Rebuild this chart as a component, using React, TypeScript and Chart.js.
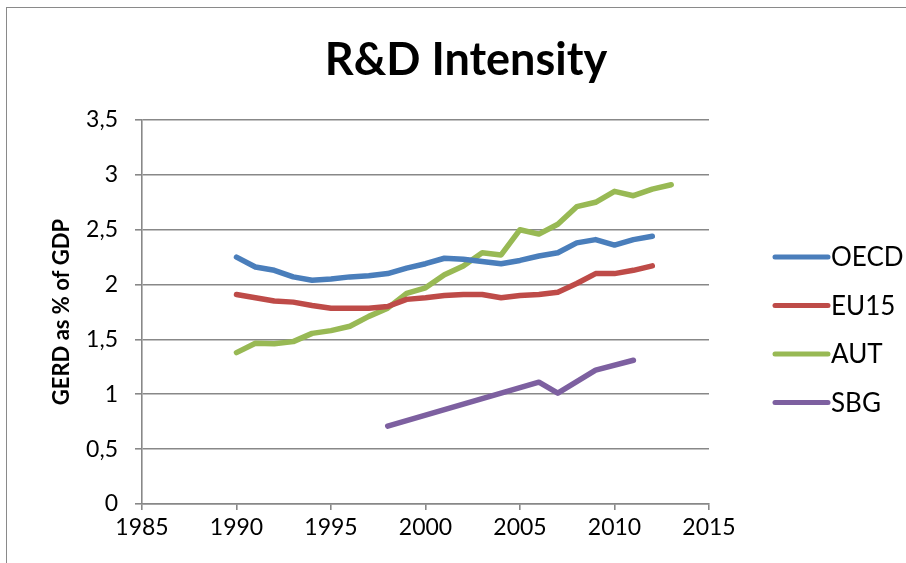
import React, { useEffect, useRef } from "react";
import { Chart, registerables } from "chart.js";

Chart.register(...registerables);

const seriesNames = ["OECD", "EU15", "AUT", "SBG"];
const seriesColors = ["#4A7EBB", "#BE4B48", "#98B954", "#7D60A0"];

const oecdYears = [1990, 1991, 1992, 1993, 1994, 1995, 1996, 1997, 1998, 1999, 2000, 2001, 2002, 2003, 2004, 2005, 2006, 2007, 2008, 2009, 2010, 2011, 2012];
const oecdValues = [2.25, 2.16, 2.13, 2.07, 2.04, 2.05, 2.07, 2.08, 2.10, 2.15, 2.19, 2.24, 2.23, 2.21, 2.19, 2.22, 2.26, 2.29, 2.38, 2.41, 2.36, 2.41, 2.44];

const eu15Years = [1990, 1991, 1992, 1993, 1994, 1995, 1996, 1997, 1998, 1999, 2000, 2001, 2002, 2003, 2004, 2005, 2006, 2007, 2008, 2009, 2010, 2011, 2012];
const eu15Values = [1.91, 1.88, 1.85, 1.84, 1.81, 1.785, 1.785, 1.785, 1.80, 1.865, 1.88, 1.90, 1.91, 1.91, 1.88, 1.90, 1.91, 1.93, 2.01, 2.10, 2.10, 2.13, 2.17];

const autYears = [1990, 1991, 1992, 1993, 1994, 1995, 1996, 1997, 1998, 1999, 2000, 2001, 2002, 2003, 2004, 2005, 2006, 2007, 2008, 2009, 2010, 2011, 2012, 2013];
const autValues = [1.38, 1.465, 1.46, 1.48, 1.555, 1.58, 1.62, 1.71, 1.785, 1.92, 1.97, 2.09, 2.17, 2.29, 2.27, 2.50, 2.46, 2.55, 2.71, 2.75, 2.85, 2.81, 2.87, 2.91];

const sbgYears = [1998, 2006, 2007, 2009, 2011];
const sbgValues = [0.71, 1.11, 1.01, 1.22, 1.31];

const titleText = "R&D Intensity";
const yAxisTitle = "GERD as % of GDP";
const xMin = 1985;
const xMax = 2015;
const xStep = 5;
const yMin = 0;
const yMax = 3.5;
const yStep = 0.5;

const FONT = "Lato, 'Open Sans', sans-serif";
const GRID = "#888888";

function toPoints(xs: number[], ys: number[]) {
  return xs.map((x, i) => ({ x, y: ys[i] }));
}

const titlePlugin = {
  id: "excelTitle",
  afterDraw(chart: any) {
    const { ctx, chartArea } = chart;
    ctx.save();
    ctx.font = `bold 45px ${FONT}`;
    ctx.fillStyle = "#000";
    ctx.textAlign = "center";
    ctx.textBaseline = "middle";
    ctx.fillText(titleText, chartArea.left + 324, chartArea.top - 60);
    ctx.restore();
  },
};

const legendPlugin = {
  id: "excelLegend",
  afterDraw(chart: any) {
    const { ctx, chartArea } = chart;
    ctx.save();
    chart.data.datasets.forEach((ds: any, i: number) => {
      const y = 257 + i * 48.5;
      const x0 = chartArea.right + 66;
      ctx.strokeStyle = ds.borderColor;
      ctx.lineWidth = 5;
      ctx.lineCap = "round";
      ctx.beginPath();
      ctx.moveTo(x0, y);
      ctx.lineTo(x0 + 53, y);
      ctx.stroke();
      ctx.fillStyle = "#000";
      ctx.font = `26px ${FONT}`;
      ctx.textAlign = "left";
      ctx.textBaseline = "middle";
      ctx.fillText(ds.label, x0 + 56, y + 1);
    });
    ctx.restore();
  },
};

export default function App() {
  const ref = useRef<HTMLCanvasElement>(null);

  useEffect(() => {
    if (!ref.current) return;
    const allX = [oecdYears, eu15Years, autYears, sbgYears];
    const allY = [oecdValues, eu15Values, autValues, sbgValues];
    const chart = new Chart(ref.current, {
      type: "line",
      data: {
        datasets: seriesNames.map((name, i) => ({
          label: name,
          data: toPoints(allX[i], allY[i]),
          borderColor: seriesColors[i],
          backgroundColor: seriesColors[i],
          borderWidth: 5.5,
          borderCapStyle: "round",
          borderJoinStyle: "round",
          pointRadius: 0,
          tension: 0,
          fill: false,
        })),
      },
      options: {
        animation: false,
        responsive: false,
        maintainAspectRatio: false,
        layout: { padding: { left: 0, top: 120, right: 197, bottom: 0 } },
        plugins: {
          legend: { display: false },
          title: { display: false },
          tooltip: { enabled: false },
        },
        scales: {
          x: {
            type: "linear",
            min: xMin,
            max: xMax,
            ticks: {
              stepSize: xStep,
              color: "#000",
              font: { family: FONT, size: 23 },
              padding: 4,
              maxRotation: 0,
              callback: (v: any) => String(v),
            },
            grid: {
              display: true,
              drawOnChartArea: false,
              drawTicks: true,
              tickLength: 6,
              color: GRID,
              lineWidth: 1.6,
            },
            border: { display: true, color: GRID, width: 1.6 },
            afterFit: (s: any) => {
              s.height = 59;
            },
          },
          y: {
            type: "linear",
            min: yMin,
            max: yMax,
            ticks: {
              stepSize: yStep,
              color: "#000",
              font: { family: FONT, size: 23 },
              padding: 17,
              callback: (v: any) => String(v).replace(".", ","),
            },
            grid: {
              display: true,
              drawOnChartArea: true,
              drawTicks: true,
              tickLength: 7,
              color: GRID,
              lineWidth: 1.6,
            },
            border: { display: true, color: GRID, width: 1.6 },
            title: {
              display: true,
              text: yAxisTitle,
              color: "#000",
              font: { family: FONT, size: 22, weight: "bold" },
              padding: { top: 49, bottom: 0 },
            },
            afterFit: (s: any) => {
              s.width = 142;
            },
          },
        },
      } as any,
      plugins: [titlePlugin, legendPlugin],
    });
    return () => chart.destroy();
  }, []);

  return (
    <div style={{ position: "fixed", left: 0, top: 0, width: 906, height: 563, background: "#fff", overflow: "hidden" }}>
      <div
        style={{
          position: "absolute",
          left: 6,
          top: 7,
          width: 920,
          height: 600,
          borderLeft: "1.5px solid #8a8a8a",
          borderTop: "1.5px solid #8a8a8a",
          boxSizing: "border-box",
        }}
      />
      <canvas ref={ref} width={906} height={563} style={{ position: "absolute", left: 0, top: 0, display: "block" }} />
    </div>
  );
}
